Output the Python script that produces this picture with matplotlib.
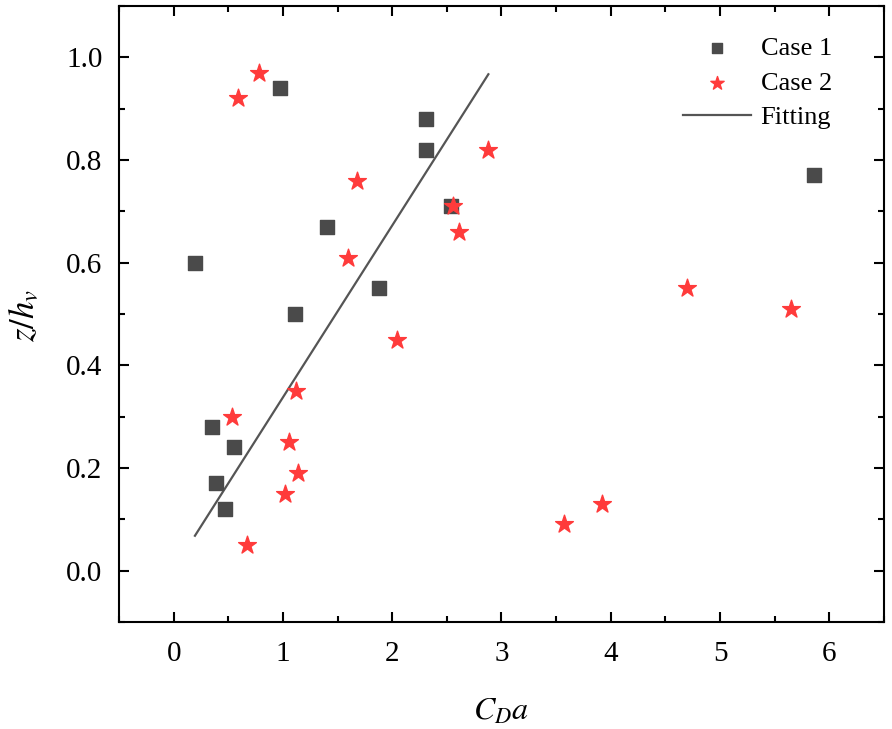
import matplotlib.pyplot as plt
from matplotlib.ticker import MultipleLocator

# Case 1 (squares)
case1_x = [0.20, 0.97, 2.31, 2.31, 2.54, 1.40, 1.88, 1.11, 0.35, 0.55, 0.39, 0.47, 5.86]
case1_y = [0.60, 0.94, 0.88, 0.82, 0.71, 0.67, 0.55, 0.50, 0.28, 0.24, 0.17, 0.12, 0.77]

# Case 2 (stars)
case2_x = [0.78, 0.59, 2.88, 1.68, 2.56, 2.61, 1.60, 2.04, 1.12, 0.53, 1.06,
           1.14, 1.02, 0.67, 3.57, 3.92, 4.70, 5.65]
case2_y = [0.97, 0.92, 0.82, 0.76, 0.71, 0.66, 0.61, 0.45, 0.35, 0.30, 0.25,
           0.19, 0.15, 0.05, 0.09, 0.13, 0.55, 0.51]

# fitted line end points
fit_x = [0.195, 2.88]
fit_y = [0.068, 0.967]

yticks = [0.0, 0.2, 0.4, 0.6, 0.8, 1.0]
ytick_labels = ['0.0', '0.2', '0.4', '0.6', '0.8', '1.0']

plt.rcParams['font.family'] = ['Liberation Serif', 'DejaVu Serif']
plt.rcParams['mathtext.fontset'] = 'stix'

fig = plt.figure(figsize=(8.92, 7.29), dpi=100)
ax = fig.add_axes([0.1334, 0.1468, 0.8576, 0.845])

ax.plot(fit_x, fit_y, color='#555555', lw=1.6, label='Fitting', zorder=2)
ax.scatter(case1_x, case1_y, marker='s', s=110, color='#4a4a4a', label='Case 1', zorder=3)
ax.scatter(case2_x, case2_y, marker='*', s=180, color='#ff3b3b', label='Case 2', zorder=4)

ax.set_xlim(-0.5, 6.5)
ax.set_ylim(-0.1, 1.1)
ax.xaxis.set_major_locator(MultipleLocator(1))
ax.xaxis.set_minor_locator(MultipleLocator(0.5))
ax.yaxis.set_minor_locator(MultipleLocator(0.1))
ax.set_yticks(yticks)
ax.set_yticklabels(ytick_labels)

ax.tick_params(which='both', direction='in', top=True, right=True, width=1.5)
ax.tick_params(which='major', length=7, labelsize=21)
ax.tick_params(axis='x', which='major', pad=14)
ax.tick_params(axis='y', which='major', pad=12)
ax.tick_params(which='minor', length=4)
for sp in ax.spines.values():
    sp.set_linewidth(1.5)

ax.set_xlabel('$C_Da$', fontsize=23)
ax.set_ylabel('$z/h_v$', fontsize=25)
ax.xaxis.set_label_coords(0.5, -0.122)
ax.yaxis.set_label_coords(-0.101, 0.497)

handles, labels = ax.get_legend_handles_labels()
order = [1, 2, 0]
ax.legend([handles[i] for i in order], [labels[i] for i in order],
          loc='upper right', frameon=False, fontsize=19,
          bbox_to_anchor=(0.932, 0.95), borderaxespad=0, borderpad=0,
          handlelength=2.6, handletextpad=0.35, labelspacing=0.42,
          markerscale=0.75)

fig.savefig('out.png', dpi=100)
